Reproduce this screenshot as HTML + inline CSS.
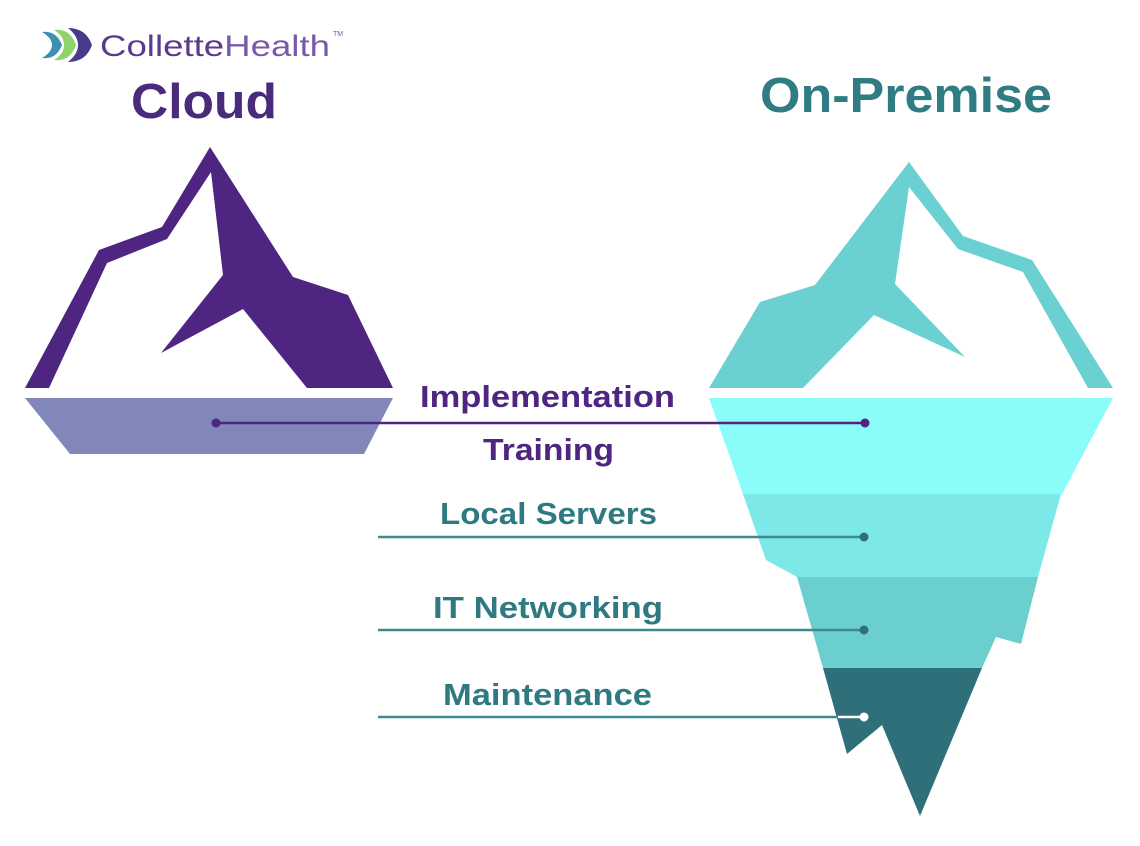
<!DOCTYPE html>
<html><head><meta charset="utf-8"><style>html,body{margin:0;padding:0;background:#fff}svg{display:block}</style></head>
<body>
<svg width="1140" height="846" viewBox="0 0 1140 846" xmlns="http://www.w3.org/2000/svg" font-family="'Liberation Sans', sans-serif">
<rect width="1140" height="846" fill="#fff"/>
<!-- logo -->
<path d="M42,32 Q56,30 62,45 Q56,60 42,58 Q52,52 52,45 Q52,38 42,32Z" fill="#3f8fb0"/>
<path d="M54,30 Q70,28 76,45 Q70,62 54,60 Q64,54 64,45 Q64,36 54,30Z" fill="#8fd46a"/>
<path d="M68,28 Q86,28 92,45 Q86,62 68,62 Q78,54 78,45 Q78,36 68,28Z" fill="#4a3a8c"/>
<text x="100" y="56" font-size="30" fill="#5b3a8c" textLength="230" lengthAdjust="spacingAndGlyphs">Collette<tspan fill="#7a5aa8">Health</tspan></text>
<text x="333" y="36" font-size="7" fill="#7a5aa8">TM</text>
<text x="131" y="118" font-size="49" font-weight="bold" fill="#4a2a7a" textLength="146" lengthAdjust="spacingAndGlyphs">Cloud</text>
<text x="760" y="112" font-size="49" font-weight="bold" fill="#2f7c82" textLength="292" lengthAdjust="spacingAndGlyphs">On-Premise</text>
<!-- left iceberg -->
<polygon points="210,147 162,227 99,250 25,388 49,388 107,263 167,239 211,172 223,275 161,353 243,309 307,388 393,388 348,295 293,277" fill="#4e2580"/>
<polygon points="25,398 393,398 364,454 70,454" fill="#8187b8"/>
<!-- right iceberg -->
<polygon points="909,162 963,236 1032,260 1113,388 1088,388 1023,272 958,249 909,187 895,284 965,357 874,315 803,388 709,388 760,302 815,285" fill="#6bd0d1"/>
<polygon points="709,398 1113,398 1062,494 743,494" fill="#8afcf9"/>
<polygon points="743,494 1061,494 1038,577 797,577 766,560" fill="#7de8e8"/>
<polygon points="797,577 1038,577 1021,644 996,637 982,668 823,668" fill="#6bcfcf"/>
<polygon points="823,668 982,668 920,816 882,725 847,754" fill="#2e6f7a"/>
<!-- connectors -->
<line x1="216" y1="423" x2="865" y2="423" stroke="#4e2580" stroke-width="2.5"/>
<circle cx="216" cy="423" r="4.5" fill="#4e2580"/>
<circle cx="865" cy="423" r="4.5" fill="#4e2580"/>
<line x1="378" y1="537" x2="864" y2="537" stroke="#3d8a92" stroke-width="2.5"/>
<circle cx="864" cy="537" r="4.5" fill="#2e6f7a"/>
<line x1="378" y1="630" x2="864" y2="630" stroke="#3d8a92" stroke-width="2.5"/>
<circle cx="864" cy="630" r="4.5" fill="#2e6f7a"/>
<line x1="378" y1="717" x2="838" y2="717" stroke="#3d8a92" stroke-width="2.5"/>
<line x1="838" y1="717" x2="864" y2="717" stroke="#fff" stroke-width="2.5"/>
<circle cx="864" cy="717" r="4.5" fill="#fff"/>
<!-- labels -->
<g font-weight="bold" font-size="31">
<text x="420" y="407" fill="#4e2580" textLength="255" lengthAdjust="spacingAndGlyphs">Implementation</text>
<text x="483" y="460" fill="#4e2580" textLength="131" lengthAdjust="spacingAndGlyphs">Training</text>
<text x="440" y="524" fill="#2e7a80" textLength="217" lengthAdjust="spacingAndGlyphs">Local Servers</text>
<text x="433" y="618" fill="#2e7a80" textLength="230" lengthAdjust="spacingAndGlyphs">IT Networking</text>
<text x="443" y="705" fill="#2e7a80" textLength="209" lengthAdjust="spacingAndGlyphs">Maintenance</text>
</g>
</svg>
</body></html>
